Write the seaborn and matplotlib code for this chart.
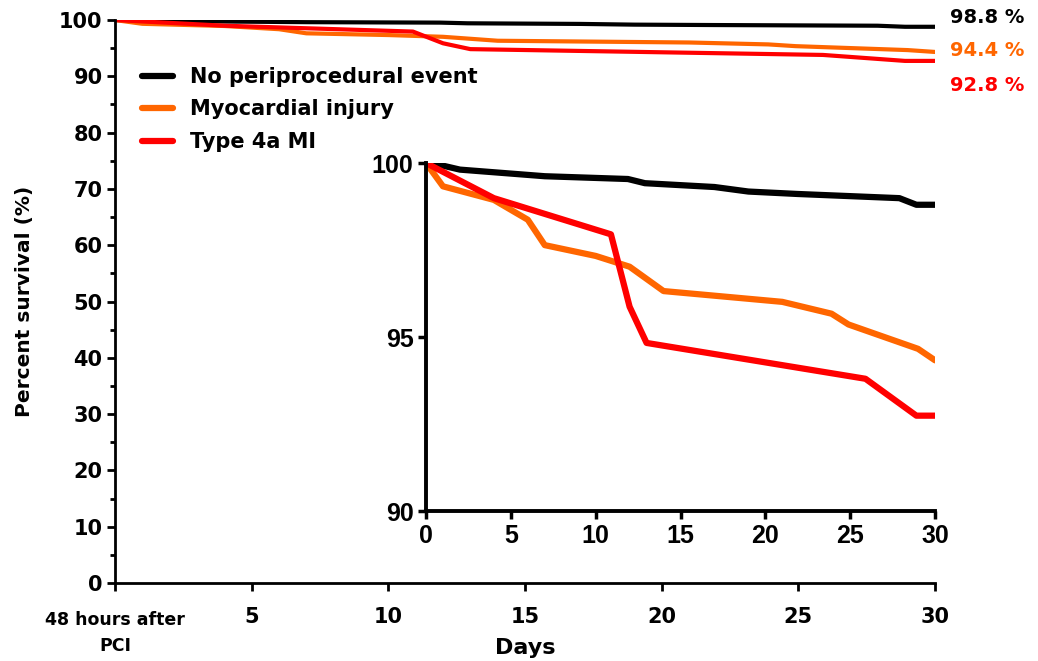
import pandas as pd
import seaborn as sns
import matplotlib
matplotlib.use("Agg")
import matplotlib.pyplot as plt  # noqa

# Kaplan-Meier style survival curves (days, percent survival)
days_none = [0, 0.5, 2.0, 7.0, 11.9, 12.9, 17.0, 19.0, 21.9, 27.9, 28.9, 30]
surv_none = [100, 99.98, 99.81, 99.62, 99.54, 99.42, 99.31, 99.18, 99.11, 98.99, 98.8, 98.8]

days_injury = [0, 1.0, 4.0, 6.0, 7.0, 10.0, 12.0, 14.0, 21.0, 23.9, 24.9, 29.0, 30]
surv_injury = [100, 99.33, 98.94, 98.37, 97.64, 97.33, 97.02, 96.32, 96.01, 95.67, 95.36, 94.66, 94.33]

days_mi = [0, 4.0, 10.9, 12.0, 13.0, 25.9, 28.9, 30]
surv_mi = [100, 98.99, 97.95, 95.87, 94.83, 93.8, 92.74, 92.74]

groups = ["No periprocedural event", "Myocardial injury", "Type 4a MI"]
final_labels = ["98.8 %", "94.4 %", "92.8 %"]
final_values = [98.8, 94.4, 92.8]
colors = ["#000000", "#FF6600", "#FF0000"]

frames = []
for g, d, s in zip(groups, [days_none, days_injury, days_mi], [surv_none, surv_injury, surv_mi]):
    frames.append(pd.DataFrame({"day": d, "survival": s, "group": g}))
df = pd.concat(frames, ignore_index=True)

sns.set_style("ticks")
plt.rcParams["font.family"] = ["DejaVu Sans"]
plt.rcParams["font.weight"] = "bold"
for key in ["text.color", "axes.labelcolor", "xtick.color", "ytick.color", "axes.edgecolor"]:
    plt.rcParams[key] = "black"

fig = plt.figure(figsize=(10.38, 6.61), dpi=100)
ax = fig.add_axes([0.1108, 0.118, 0.79, 0.8517])

sns.lineplot(data=df, x="day", y="survival", hue="group", hue_order=groups,
             palette=colors, linewidth=3, estimator=None, ax=ax)

ax.set_xlim(0, 30)
ax.set_ylim(0, 100)
ax.set_yticks(range(0, 101, 10))
ax.set_yticks(range(5, 100, 10), minor=True)
ax.set_xticks([0, 5, 10, 15, 20, 25, 30])
ax.set_xticklabels(["", "5", "10", "15", "20", "25", "30"])
ax.tick_params(axis="both", which="major", labelsize=15, width=2, length=6, pad=3)
ax.tick_params(axis="y", which="minor", width=2, length=3.5)
ax.tick_params(axis="x", pad=11)
for lab in ax.get_xticklabels() + ax.get_yticklabels():
    lab.set_fontweight("bold")
ax.annotate("48 hours after\nPCI", xy=(0, 0), xytext=(0, -28), textcoords="offset pixels",
            ha="center", va="top", fontsize=12.5, fontweight="bold", linespacing=1.6,
            annotation_clip=False)
for sp in ["top", "right"]:
    ax.spines[sp].set_visible(False)
for sp in ["left", "bottom"]:
    ax.spines[sp].set_linewidth(2)

ax.set_xlabel("Days", fontsize=16, fontweight="bold", labelpad=8)
ax.set_ylabel("Percent survival (%)", fontsize=14.5, fontweight="bold", labelpad=18)

leg = ax.legend(loc="upper left", bbox_to_anchor=(0.01, 0.95), frameon=False,
                fontsize=15, handlelength=1.5, handletextpad=0.8, labelspacing=0.6)
for t in leg.get_texts():
    t.set_fontweight("bold")
for h in leg.get_lines():
    h.set_linewidth(4.5)

# end-of-follow-up labels, nudged apart vertically
nudges = [9, 1, -25]
for lbl, y, c, dy in zip(final_labels, final_values, colors, nudges):
    ax.annotate(lbl, xy=(30, y), xytext=(15, dy), textcoords="offset pixels",
                ha="left", va="center", color=c,
                fontsize=14, fontweight="bold", annotation_clip=False)

# inset zoom
axin = fig.add_axes([0.4104, 0.2269, 0.4904, 0.5265])
sns.lineplot(data=df, x="day", y="survival", hue="group", hue_order=groups,
             palette=colors, linewidth=4.5, estimator=None, ax=axin, legend=False)
axin.set_xlim(0, 30)
axin.set_ylim(90, 100)
axin.set_yticks([90, 95, 100])
axin.set_xticks([0, 5, 10, 15, 20, 25, 30])
axin.set_xlabel("")
axin.set_ylabel("")
axin.tick_params(axis="both", labelsize=18, width=2.5, length=6, pad=3)
for lab in axin.get_xticklabels() + axin.get_yticklabels():
    lab.set_fontweight("bold")
    lab.set_family(["Liberation Sans", "DejaVu Sans"])
for sp in ["top", "right"]:
    axin.spines[sp].set_visible(False)
for sp in ["left", "bottom"]:
    axin.spines[sp].set_linewidth(2.8)
axin.patch.set_alpha(0)

fig.savefig("out.png", dpi=100)
